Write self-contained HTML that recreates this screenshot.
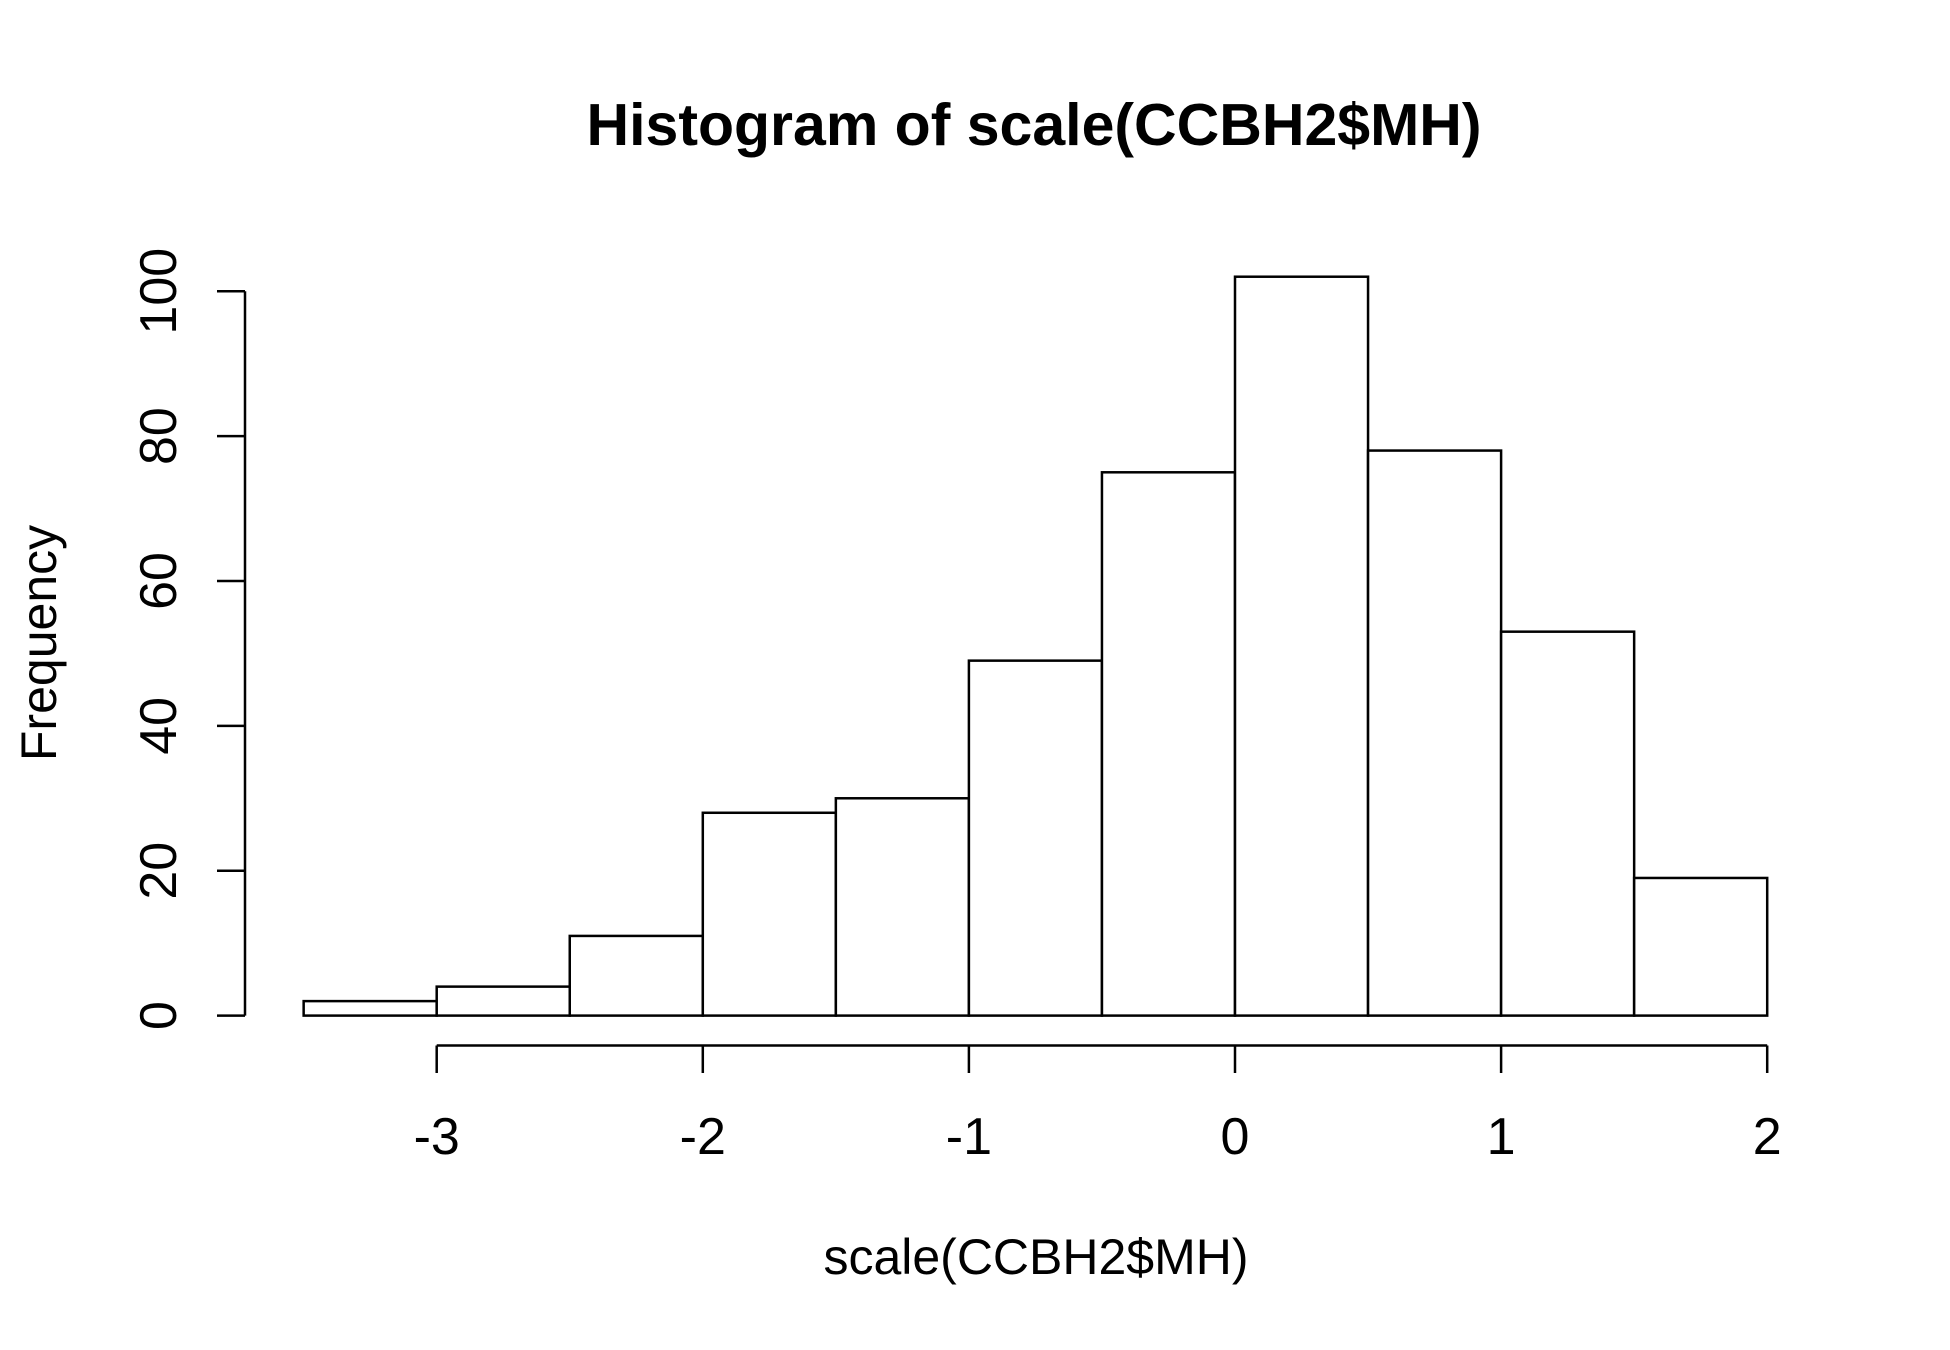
<!DOCTYPE html>
<html><head><meta charset="utf-8"><style>html,body{margin:0;padding:0;background:#fff}svg{display:block}text{font-family:"Liberation Sans",Arial,sans-serif;fill:#000}</style></head>
<body>
<svg id="chart" width="1950" height="1350" xmlns="http://www.w3.org/2000/svg">
<text x="1034" y="145" font-size="59" font-weight="bold" text-anchor="middle">Histogram of scale(CCBH2$MH)</text>
<text x="1036" y="1274" font-size="50" text-anchor="middle">scale(CCBH2$MH)</text>
<text transform="translate(56,643) rotate(-90)" font-size="50" text-anchor="middle">Frequency</text>
<g id="bars"></g><g id="xaxis"></g><g id="yaxis"></g>
</svg>
<script>
const binEdges = [-3.5,-3,-2.5,-2,-1.5,-1,-0.5,0,0.5,1,1.5,2];
const counts = [2,4,11,28,30,49,75,102,78,53,19];
const xTicks = [-3,-2,-1,0,1,2];
const yTicks = [0,20,40,60,80,100];
const NS = "http://www.w3.org/2000/svg";
function xs(v){ return 1235 + v*266.1; }
function ys(v){ return 1015.6 - v*7.244; }
function mk(tag, attrs, parent){ const e=document.createElementNS(NS,tag); for(const k in attrs) e.setAttribute(k,attrs[k]); parent.appendChild(e); return e; }
const bars=document.getElementById('bars'), xa=document.getElementById('xaxis'), ya=document.getElementById('yaxis');
counts.forEach((c,i)=>{
  const x0=xs(binEdges[i]), x1=xs(binEdges[i+1]);
  const r=mk('rect',{x:x0,y:ys(c),width:x1-x0,height:ys(0)-ys(c),fill:'#fff',stroke:'#000','stroke-width':2.5},bars);
  
  
});
const xl=mk('line',{x1:xs(xTicks[0]),x2:xs(xTicks[xTicks.length-1]),y1:1045.5,y2:1045.5,stroke:'#000','stroke-width':2.5},xa);


xTicks.forEach(t=>{
  const l=mk('line',{x1:xs(t),x2:xs(t),y1:1045.5,y2:1073,stroke:'#000','stroke-width':2.5},xa);
  
  
  const tx=mk('text',{x:xs(t),y:1154,'font-size':52,'text-anchor':'middle'},xa);
  tx.textContent=String(t);
  
  
});
const yl=mk('line',{x1:245,x2:245,y1:ys(yTicks[0]),y2:ys(yTicks[yTicks.length-1]),stroke:'#000','stroke-width':2.5},ya);


yTicks.forEach(t=>{
  const l=mk('line',{x1:217,x2:245,y1:ys(t),y2:ys(t),stroke:'#000','stroke-width':2.5},ya);
  
  
  const tx=mk('text',{transform:'translate(176,'+ys(t)+') rotate(-90)','font-size':52,'text-anchor':'middle'},ya);
  tx.textContent=String(t);
  
  
});
</script>
</body></html>
